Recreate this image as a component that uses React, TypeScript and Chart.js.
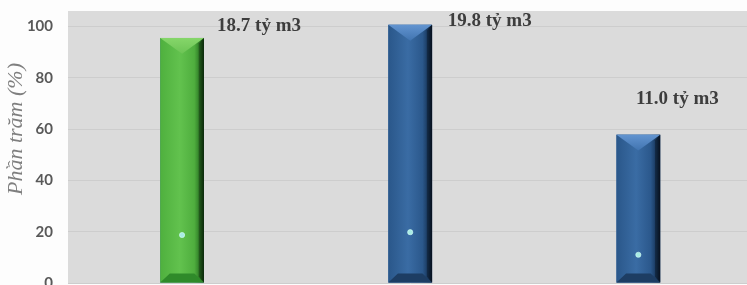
import React, { useEffect, useRef } from "react";
import { Chart, registerables } from "chart.js";

Chart.register(...registerables);

const categories = ["A", "B", "C"];
const percentValues = [95.5, 100.6, 57.8];
const volumeValues = [18.7, 19.8, 11.0];
const yTickValues = [0, 20, 40, 60, 80, 100];
const yTitle = "Phần trăm (%)";
const unitSuffix = " tỷ m3";

// styling (not data)
const barStyles = [
  {
    body: [["0", "#4fb03e"], ["0.45", "#62c24e"], ["0.78", "#4fae3e"], ["0.9", "#2f7c27"], ["1", "#0f3a0d"]],
    top: ["#86d66a", "#6cc455"],
    bottom: "#2f8a2a",
  },
  {
    body: [["0", "#2a578a"], ["0.45", "#3a6ca4"], ["0.78", "#2b588c"], ["0.9", "#1a3a60"], ["1", "#0a182b"]],
    top: ["#6294d0", "#4174b0"],
    bottom: "#1d3d63",
  },
  {
    body: [["0", "#2a578a"], ["0.45", "#3a6ca4"], ["0.78", "#2b588c"], ["0.9", "#1a3a60"], ["1", "#0a182b"]],
    top: ["#6294d0", "#4174b0"],
    bottom: "#1d3d63",
  },
];
const labelOffsets = [
  [77, -12],
  [79.5, -4],
  [39, -36],
];

const bgPlugin = {
  id: "plotBg",
  beforeDraw(chart: any) {
    const { ctx, chartArea } = chart;
    ctx.save();
    ctx.fillStyle = "#dbdbdb";
    ctx.fillRect(chartArea.left, chartArea.top, chartArea.right - chartArea.left, chartArea.bottom - chartArea.top);
    ctx.restore();
  },
};

const bevelPlugin = {
  id: "bevelBars",
  afterDatasetDraw(chart: any, args: any) {
    if (args.index !== 0) return;
    const { ctx } = chart;
    const meta = chart.getDatasetMeta(0);
    meta.data.forEach((el: any, i: number) => {
      const st = barStyles[i % barStyles.length];
      const w = el.width;
      const x0 = el.x - w / 2;
      const x1 = el.x + w / 2;
      const top = el.y;
      const bottom = el.base;
      ctx.save();
      const g = ctx.createLinearGradient(x0, 0, x1, 0);
      st.body.forEach(([o, c]) => g.addColorStop(parseFloat(o), c));
      ctx.fillStyle = g;
      ctx.fillRect(x0, top, w, bottom - top);
      const d = w * 0.36;
      const gt = ctx.createLinearGradient(0, top, 0, top + d);
      gt.addColorStop(0, st.top[0]);
      gt.addColorStop(1, st.top[1]);
      ctx.fillStyle = gt;
      ctx.beginPath();
      ctx.moveTo(x0, top);
      ctx.lineTo(x1, top);
      ctx.lineTo(el.x, top + d);
      ctx.closePath();
      ctx.fill();
      ctx.fillStyle = "#000000";
      ctx.beginPath();
      ctx.moveTo(x1, top);
      ctx.lineTo(x1 - w * 0.12, top + d * 0.35);
      ctx.lineTo(x1 - w * 0.12, bottom - 6);
      ctx.lineTo(x1, bottom);
      ctx.closePath();
      ctx.globalAlpha = 0.3;
      ctx.fill();
      ctx.globalAlpha = 1;
      ctx.fillStyle = st.bottom;
      ctx.beginPath();
      ctx.moveTo(x0, bottom);
      ctx.lineTo(x1, bottom);
      ctx.lineTo(x1 - w * 0.22, bottom - 9);
      ctx.lineTo(x0 + w * 0.22, bottom - 9);
      ctx.closePath();
      ctx.fill();
      ctx.restore();
    });
  },
};

const labelPlugin = {
  id: "valueLabels",
  afterDraw(chart: any) {
    const { ctx } = chart;
    const meta = chart.getDatasetMeta(0);
    ctx.save();
    ctx.font = "bold 19px 'Liberation Serif', 'Times New Roman', serif";
    ctx.fillStyle = "#3d3d3d";
    ctx.textAlign = "center";
    ctx.textBaseline = "middle";
    meta.data.forEach((el: any, i: number) => {
      const [dx, dy] = labelOffsets[i];
      ctx.fillText(volumeValues[i].toFixed(1) + unitSuffix, el.x + dx, el.y + dy);
    });
    const yScale = chart.scales.y;
    ctx.font = "italic 22px 'Liberation Serif', 'Times New Roman', serif";
    ctx.fillStyle = "#7f7f7f";
    ctx.translate(16, yScale.getPixelForValue(60));
    ctx.rotate(-Math.PI / 2);
    ctx.fillText(yTitle, 0, 0);
    ctx.restore();
  },
};

export default function App() {
  const ref = useRef<HTMLCanvasElement>(null);
  useEffect(() => {
    if (!ref.current) return;
    const chart = new Chart(ref.current, {
      type: "bar",
      data: {
        labels: categories,
        datasets: [
          {
            type: "bar",
            data: percentValues,
            backgroundColor: "#3a6ca4",
            barPercentage: 0.192,
            categoryPercentage: 1,
            order: 1,
          } as any,
          {
            type: "line",
            data: volumeValues,
            showLine: false,
            pointRadius: 2.6,
            pointBackgroundColor: "#a8ece4",
            pointBorderColor: "#d6fff9",
            pointBorderWidth: 0.6,
            order: 0,
          } as any,
        ],
      },
      options: {
        animation: false,
        responsive: false,
        devicePixelRatio: 1,
        layout: { padding: { top: 11, bottom: 17, left: 0, right: 0 } },
        plugins: { legend: { display: false }, tooltip: { enabled: false } },
        scales: {
          x: { display: false, offset: true },
          y: {
            min: 0,
            max: 106,
            afterBuildTicks: (scale: any) => {
              scale.ticks = yTickValues.map((v) => ({ value: v }));
            },
            afterFit: (scale: any) => {
              scale.width = 68;
              scale.paddingTop = 0;
              scale.paddingBottom = 0;
            },
            grid: { color: "#cdcdcd", drawTicks: false, lineWidth: 1 },
            border: { display: false },
            ticks: {
              padding: 15,
              color: "#595959",
              font: { family: "Lato, 'Open Sans', sans-serif", size: 15, weight: "bold" },
            },
          },
        },
      } as any,
      plugins: [bgPlugin, bevelPlugin, labelPlugin],
    });
    return () => chart.destroy();
  }, []);
  return (
    <div style={{ position: "absolute", left: 0, top: 0, width: 747, height: 285, overflow: "hidden", background: "#fdfdfd" }}>
      <canvas ref={ref} width={757} height={300} style={{ display: "block" }} />
    </div>
  );
}
